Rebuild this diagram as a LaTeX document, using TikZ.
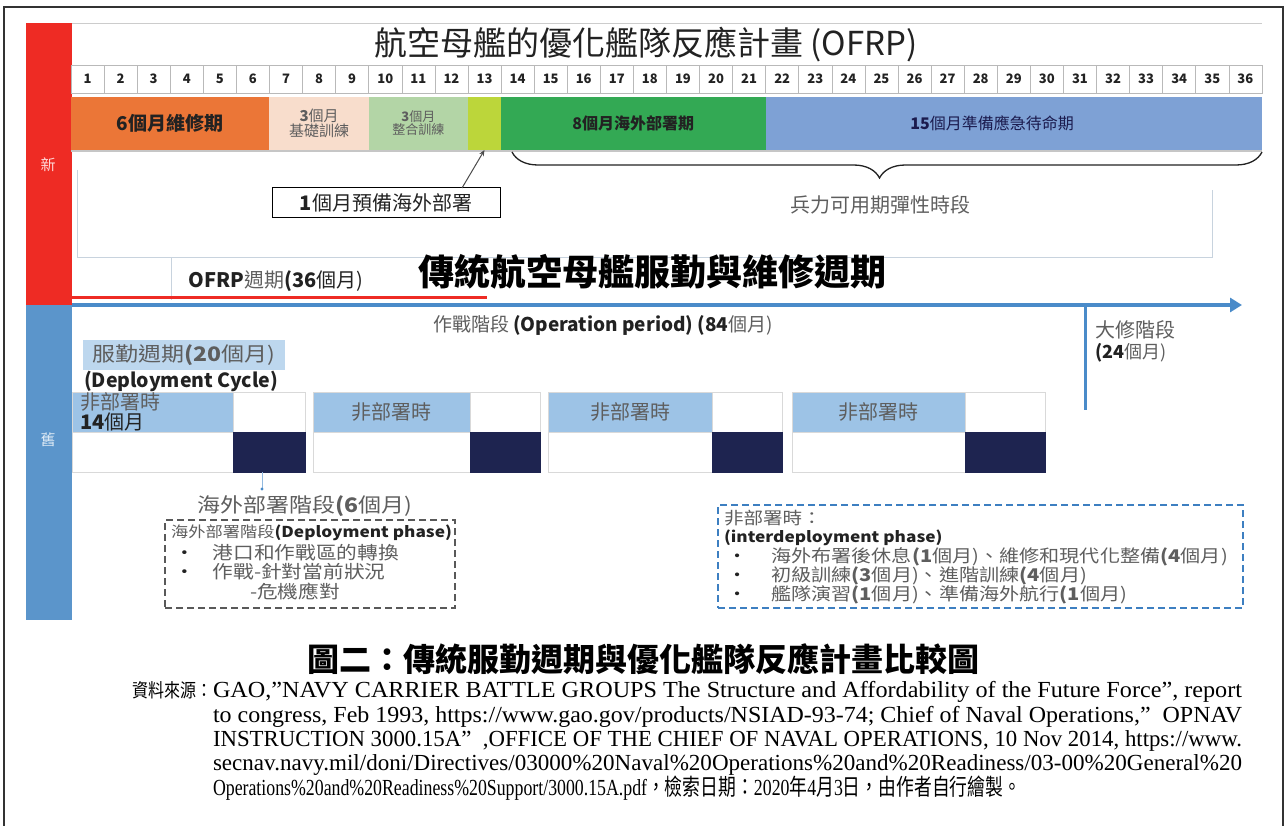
\documentclass[tikz,border=0pt]{standalone}
\usepackage{fontspec}
\usepackage{graphicx}
\setmainfont{Liberation Serif}
\newfontfamily\cjk{Noto Sans CJK TC}
\newfontfamily\cjkw{Noto Sans CJK TC}[FakeStretch=1.15]
\usetikzlibrary{decorations.pathreplacing,arrows.meta}
\newcommand\fsz[1]{\fontsize{#1}{#1}\selectfont}
\definecolor{sidered}{HTML}{EE2B24}
\definecolor{sideblue}{HTML}{5B95CB}
\definecolor{corange}{HTML}{EB7637}
\definecolor{cpeach}{HTML}{F8DDCC}
\definecolor{clgreen}{HTML}{B3D5A6}
\definecolor{clime}{HTML}{BCD63A}
\definecolor{cgreen}{HTML}{33A954}
\definecolor{cblue}{HTML}{7EA1D5}
\definecolor{lblue}{HTML}{9DC3E6}
\definecolor{navy}{HTML}{1E2450}
\definecolor{arrowblue}{HTML}{4A8BC9}
\definecolor{frameline}{HTML}{C8D3DE}
\definecolor{txtgray}{HTML}{5E5E5E}
\definecolor{txtdark}{HTML}{222222}
\definecolor{dcbox}{HTML}{BDD7EE}
\definecolor{dashblue}{HTML}{3D7FC1}
\begin{document}
\begin{tikzpicture}[x=1pt,y=-1pt,
  every node/.style={inner sep=0pt, outer sep=0pt},
  mcell/.style={draw=gray!55, line width=0.6pt, fill=white, minimum width=33.08pt, minimum height=28pt, anchor=north west, font=\cjk\bfseries\fsz{13}, text=txtdark},
  bar/.style={minimum height=53pt, anchor=north west, align=center, text=txtdark},
  blk/.style={anchor=north west, minimum height=40pt, draw=gray!30, line width=0.6pt},
  dbox/.style={anchor=north west, dashed, dash pattern=on 7pt off 4pt, line width=2pt},
  lbl/.style={font=\cjk\fsz{#1}},
  lbl/.default=16,
  srcline/.style={anchor=base west, font=\fsz{23}, text=black},
  thinframe/.style={draw=frameline, line width=1pt}
]
\useasboundingbox (0,0) rectangle (1287,826);
% outer frame
\draw[line width=1.5pt, draw=black!80] (4,826) -- (4,7) -- (1283,7) -- (1283,826);
% sidebars
\fill[sidered] (26,23) rectangle (72,305);
\fill[sideblue] (26,305) rectangle (72,620);
\node[lbl=15, text=white!85!red] (xin) at (48,165) {新};
\node[lbl=15, text=white!80!sideblue] (jiu) at (48,440) {舊};
% top line and title
\draw[gray!40, line width=0.8pt] (72,23) -- (1262,23);
\node[font=\cjk\fsz{33}, text=txtdark] (title) at (646,45) {航空母艦的優化艦隊反應計畫 (OFRP)};
% month cells
\foreach \i in {1,...,36} {
  \node[mcell] (m\i) at ({71+33.08*(\i-1)},65) {\i};
}
% bars
\node[bar, fill=corange, minimum width=198.48pt, font=\cjk\bfseries\fsz{19}] (b1) at (71,97) {6個月維修期};
\node[bar, fill=cpeach, minimum width=99.24pt, font=\cjk\fsz{15}, text=txtgray] (b2) at (269.48,97) {\textbf{3}個月\\基礎訓練};
\node[bar, fill=clgreen, minimum width=99.24pt, font=\cjk\fsz{13}, text=txtgray] (b3) at (368.72,97) {\textbf{3}個月\\整合訓練};
\node[bar, fill=clime, minimum width=33.08pt] (b4) at (467.96,97) {};
\node[bar, fill=cgreen, minimum width=264.64pt, font=\cjk\bfseries\fsz{16}] (b5) at (501.04,97) {8個月海外部署期};
\node[bar, fill=cblue, minimum width=496.2pt] (b6) at (765.68,97) {};
\node[font=\cjk\fsz{16}, text=txtdark!80!blue] (t6) at (992,123.5) {\textbf{15}個月準備應急待命期};
\draw[gray!45, line width=1.5pt] (71,151) -- (1262,151);
% prep box and arrow
\node[draw=black, line width=1pt, minimum width=228pt, minimum height=30pt, font=\cjk\fsz{20}, text=txtdark] (pre) at (386,203) {\textbf{1}個月預備海外部署};
\draw[line width=1pt, draw=black!70, -{Stealth[length=6pt,width=5pt]}] ([xshift=76pt]pre.north) -- (b4.south);
% brace
\coordinate (brl) at (512,152);
\coordinate (brr) at (1262,152);
\draw[decorate, decoration={brace, mirror, amplitude=26pt, aspect=0.49}, line width=1.3pt, draw=txtdark] (brl) -- (brr);
\node[lbl=20, text=txtgray] (flex) at (880,205) {兵力可用期彈性時段};
% thin frame lines
\draw[thinframe] (77,170) -- (77,258) -- (1212,258) -- (1212,190);
\draw[thinframe] (171,258) -- (171,300);
% OFRP cycle
\node[font=\cjk\fsz{20}, text=txtdark] (ofrp) at (276,281) {\textbf{OFRP}\textcolor{txtgray}{週期}\textbf{(36}個月)};
\node[font=\cjk\bfseries\fsz{36}, text=black] (trad) at (652,272) {傳統航空母艦服勤與維修週期};
\draw[sidered, line width=3pt] (72,297) -- (487,297);
% blue time axis
\coordinate (ax0) at (72,305);
\coordinate (ax1) at (1242,305);
\draw[arrowblue, line width=4pt, -{Triangle[length=12pt,width=14pt]}] (ax0) -- (ax1);
\coordinate (ov1) at (1085,305);
\coordinate (ov2) at (1085,410);
\draw[arrowblue, line width=3pt] (ov1) -- (ov2);
\node[font=\cjk\fsz{19}, text=txtdark] (oper) at (603,325) {\textcolor{txtgray}{作戰階段} \textbf{(Operation period) (84}\textcolor{txtgray}{個月)}};
\node[font=\cjk\fsz{20}, text=txtgray, anchor=west] (ovh) at (1095,330) {大修階段};
\node[font=\cjk\fsz{18}, text=txtdark, anchor=west] (ovh2) at (1095,353) {\textbf{(24}\textcolor{txtgray}{個月)}};
% deployment cycle label
\node[fill=dcbox, minimum width=202pt, minimum height=30pt, anchor=north west, font=\cjkw\fsz{20}, text=txtgray] (dc) at (83,340) {服勤週期\textbf{(20}個月)};
\node[font=\cjk\bfseries\fsz{19.5}, text=txtdark, anchor=west] (dce) at (84,381) {(Deployment Cycle)};
% blocks
\foreach \n/\a/\b/\c in {1/72/233/305, 2/313/470/540, 3/548/712/782, 4/792/965/1045} {
  \node[blk, fill=lblue, minimum width={(\b-\a)*1pt}] (nd\n) at (\a,392) {};
  \node[blk, fill=white, minimum width={(\c-\b)*1pt}] (nw\n) at (\b,392) {};
  \node[blk, fill=white, minimum width={(\b-\a)*1pt}] (ne\n) at (\a,432) {};
  \node[blk, fill=navy, draw=navy, minimum width={(\c-\b)*1pt}] (dp\n) at (\b,432) {};
}
\node[font=\cjk\fsz{20}, text=txtgray, anchor=west, align=left] (nd1t) at (80,412) {非部署時\\\textcolor{txtdark}{\textbf{14}個月}};
\node[font=\cjk\fsz{20}, text=txtgray] (nd2t) at (nd2) {非部署時};
\node[font=\cjk\fsz{20}, text=txtgray] (nd3t) at (nd3) {非部署時};
\node[font=\cjk\fsz{20}, text=txtgray] (nd4t) at (nd4) {非部署時};
% deployment phase connector and box
\coordinate (dpdot) at (262,489);
\draw[arrowblue!60, line width=0.6pt] ([xshift=-7pt]dp1.south) -- (dpdot);
\fill[arrowblue] (dpdot) circle (1.6pt);
\node[font=\cjkw\fsz{20}, text=txtgray] (dph) at (305,506) {海外部署階段\textbf{(6}個月)};
\node[dbox, draw=black!65, minimum width=290pt, minimum height=88pt] (box1) at (165,520) {};
\node[font=\cjkw\fsz{15}, text=txtdark, anchor=west] (b1l1) at (171,533) {\textcolor{txtgray}{海外部署階段}\textbf{(Deployment phase)}};
\node[font=\cjkw\fsz{18}, text=txtgray, anchor=west] (b1l2) at (174,553) {\textcolor{txtdark}{•}\hspace{18pt}港口和作戰區的轉換};
\node[font=\cjkw\fsz{18}, text=txtgray, anchor=west] (b1l3) at (174,572) {\textcolor{txtdark}{•}\hspace{18pt}作戰-針對當前狀況};
\node[font=\cjkw\fsz{18}, text=txtgray, anchor=west] (b1l4) at (250,592) {-危機應對};
% interdeployment box
\node[dbox, draw=dashblue, minimum width=525pt, minimum height=103pt] (box2) at (718,505) {};
\node[font=\cjkw\fsz{17}, text=txtgray, anchor=west] (b2l1) at (724,518) {非部署時：};
\node[font=\cjkw\bfseries\fsz{15}, text=txtdark, anchor=west] (b2l2) at (724,538) {(interdeployment phase)};
\node[font=\cjkw\fsz{17.5}, text=txtgray, anchor=west] (b2l3) at (727,557) {\textcolor{txtdark}{•}\hspace{24pt}海外布署後休息\textbf{(1}個月)、維修和現代化整備\textbf{(4}個月)};
\node[font=\cjkw\fsz{17.5}, text=txtgray, anchor=west] (b2l4) at (727,576) {\textcolor{txtdark}{•}\hspace{24pt}初級訓練\textbf{(3}個月)、進階訓練\textbf{(4}個月)};
\node[font=\cjkw\fsz{17.5}, text=txtgray, anchor=west] (b2l5) at (727,595) {\textcolor{txtdark}{•}\hspace{24pt}艦隊演習\textbf{(1}個月)、準備海外航行\textbf{(1}個月)};
% caption
\node[font=\cjk\bfseries\fsz{32}, text=black] (cap) at (643,659) {圖二：傳統服勤週期與優化艦隊反應計畫比較圖};
% source
\node[anchor=base west, font=\cjk\fsz{19}, text=black] (s0) at (132,697) {\resizebox{80pt}{\height}{資料來源：}};
\node[srcline] (s1) at (213,697) {\resizebox{1029pt}{\height}{GAO,”NAVY CARRIER BATTLE GROUPS The Structure and Affordability of the Future Force”, report}};
\node[srcline] (s2) at (213,722) {\resizebox{1029pt}{\height}{to congress, Feb 1993, https://www.gao.gov/products/NSIAD-93-74; Chief of Naval Operations,” \ OPNAV}};
\node[srcline] (s3) at (213,746) {\resizebox{1029pt}{\height}{INSTRUCTION 3000.15A” \ ,OFFICE OF THE CHIEF OF NAVAL OPERATIONS, 10 Nov 2014, https://www.}};
\node[srcline] (s4) at (213,770) {\resizebox{1029pt}{\height}{secnav.navy.mil/doni/Directives/03000\%20Naval\%20Operations\%20and\%20Readiness/03-00\%20General\%20}};
\node[srcline] (s5) at (213,795) {\resizebox{808pt}{\height}{Operations\%20and\%20Readiness\%20Support/3000.15A.pdf{\cjk ，檢索日期：}2020{\cjk 年}4{\cjk 月}3{\cjk 日，由作者自行繪製。}}};
\end{tikzpicture}
\end{document}
